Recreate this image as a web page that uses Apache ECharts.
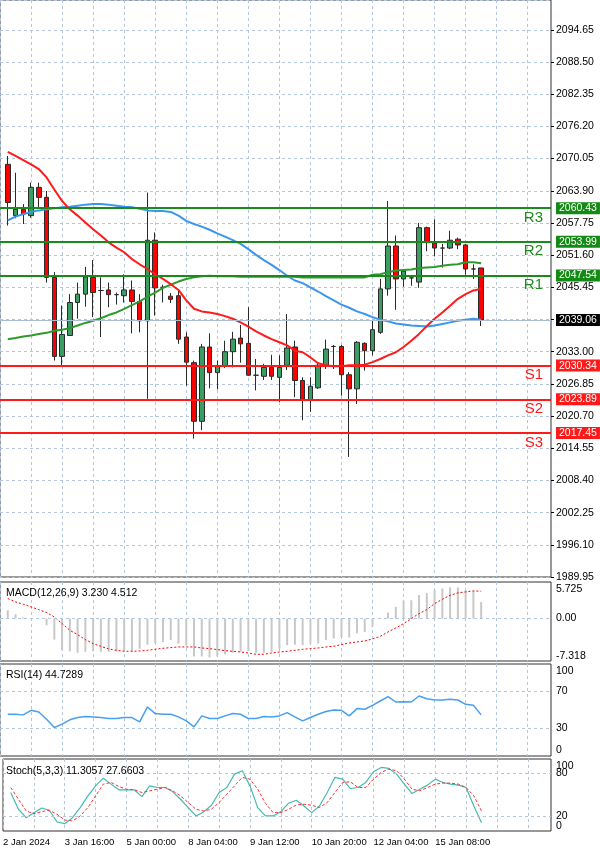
<!DOCTYPE html>
<html>
<head>
<meta charset="utf-8">
<script src="https://cdn.jsdelivr.net/npm/echarts@6/dist/echarts.min.js"></script>
<style>html,body{margin:0;padding:0;background:#fff}#c{width:600px;height:852px}</style>
</head>
<body>
<div id="c"></div>
<script>
// 4H candles, index 0..61
var opens=[2068.8,2059.0,2060.2,2059.0,2064.4,2062.5,2047.2,2032.1,2036.1,2042.4,2044.0,2047.2,2044.7,2044.8,2043.9,2043.7,2044.8,2042.6,2038.9,2054.3,2045.3,2043.6,2043.7,2035.8,2030.9,2019.7,2033.9,2029.0,2030.2,2033.0,2035.6,2034.6,2028.5,2028.3,2030.0,2028.1,2030.4,2033.9,
 2027.5,2023.7,2026.1,2030.4,2034.0,2034.0,2028.6,2025.9,2034.6,2033.2,2036.7,2045.0,2053.2,2046.9,2047.1,2046.3,2056.7,2053.8,2052.8,2052.8,2054.5,2053.4,2048.8,2049.0];
var closes=[2061.5,2060.2,2059.3,2064.4,2062.5,2047.2,2032.1,2036.3,2042.4,2044.0,2047.3,2044.3,2044.7,2043.9,2043.9,2044.8,2042.6,2038.9,2054.3,2045.2,2045.3,2043.0,2035.4,2031.0,2019.7,2033.9,2029.0,2030.2,2033.0,2035.4,2034.5,2028.5,2028.5,2030.0,2028.3,2030.0,2033.7,2027.5,
 2023.7,2026.4,2030.4,2033.5,2034.0,2028.6,2025.9,2034.8,2033.2,2037.2,2045.0,2053.2,2046.9,2048.4,2047.1,2056.7,2054.0,2052.8,2052.8,2054.3,2053.4,2048.8,2048.8,2039.06];
var highs=[2070.4,2067.2,2061.2,2065.3,2065.3,2063.7,2048.2,2041.8,2044.0,2046.2,2049.2,2050.5,2047.2,2046.2,2044.3,2047.8,2046.6,2044.0,2063.4,2055.8,2045.8,2044.2,2044.7,2036.7,2031.3,2034.5,2036.5,2031.3,2035.1,2036.8,2038.1,2041.5,2031.6,2030.7,2032.4,2032.3,2040.2,2035.1,
 2028.1,2028.1,2031.0,2035.3,2034.3,2034.3,2029.1,2035.0,2034.8,2038.9,2046.9,2061.8,2055.2,2048.8,2047.5,2057.6,2056.9,2058.3,2053.6,2056.1,2054.8,2053.6,2049.7,2049.0];
var lows=[2057.1,2058.5,2057.4,2058.6,2060.6,2046.2,2031.3,2030.4,2036.1,2039.3,2041.6,2039.6,2035.8,2041.5,2042.0,2042.4,2036.5,2036.7,2024.0,2039.9,2042.4,2042.3,2034.5,2026.5,2016.4,2018.0,2026.0,2025.8,2029.9,2030.0,2030.9,2028.4,2025.6,2027.6,2027.6,2023.4,2029.5,2024.3,
 2019.9,2021.5,2025.9,2029.7,2029.7,2024.6,2012.9,2023.0,2029.4,2032.3,2036.4,2043.7,2041.0,2045.4,2045.6,2045.2,2052.2,2051.2,2049.1,2052.6,2052.6,2047.7,2046.9,2037.9];

var maRed=[2071.2,2070.4,2069.6,2068.8,2067.9,2066.3,2064.0,2061.8,2060.2,2059.0,2057.7,2056.4,2055.2,2053.9,2052.9,2052.0,2050.7,2049.7,2048.8,2047.8,2046.9,2045.9,2044.8,2042.8,2041.2,2040.7,2040.5,2040.2,2039.8,2039.3,2038.6,2037.8,2036.9,2036.1,2035.4,2034.8,2034.2,2033.2,
 2032.9,2031.9,2030.8,2030.4,2030.2,2030.2,2030.4,2030.4,2030.5,2031.0,2031.6,2032.3,2032.9,2033.9,2035.1,2036.4,2037.9,2039.3,2040.5,2041.8,2043.1,2044.0,2044.7,2045.0];
var maBlue=[2058.1,2058.8,2059.3,2059.7,2060.0,2060.2,2060.4,2060.6,2060.7,2060.9,2061.1,2061.2,2061.2,2061.1,2060.9,2060.7,2060.6,2060.3,2060.0,2059.9,2059.9,2059.7,2059.0,2058.0,2057.4,2056.9,2056.3,2055.6,2055.0,2054.3,2053.6,2052.6,2051.5,2050.5,2049.6,2048.6,2047.5,2046.6,
 2046.1,2045.3,2044.5,2043.6,2042.8,2042.0,2041.4,2040.7,2040.2,2039.6,2039.1,2038.8,2038.4,2038.2,2038.0,2037.9,2037.8,2038.0,2038.3,2038.6,2038.9,2039.1,2039.3,2039.1];
var maGreen=[2035.4,2035.6,2035.9,2036.1,2036.4,2036.6,2037.0,2037.2,2037.5,2038.0,2038.5,2038.9,2039.4,2040.0,2040.5,2041.2,2041.9,2042.6,2043.5,2044.3,2045.2,2045.8,2046.4,2046.9,2047.2,2047.4,2047.5,2047.4,2047.4,2047.4,2047.3,2047.3,2047.3,2047.3,2047.3,2047.3,2047.3,2047.3,
 2047.2,2047.2,2047.2,2047.2,2047.2,2047.2,2047.2,2047.2,2047.2,2047.7,2047.8,2048.2,2048.5,2048.6,2048.7,2049.0,2049.1,2049.2,2049.4,2049.6,2049.7,2050.1,2050.1,2049.9];

var macdHist=[1.63,0.85,0.2,0.1,-0.1,-1.31,-4.11,-6.2,-6.4,-6.7,-6.5,-6.4,-6.5,-6.5,-6.4,-6.4,-6.4,-5.9,-5.1,-4.8,-4.6,-4.2,-4.9,-5.3,-7.4,-7.4,-7.6,-7.4,-7.0,-6.7,-6.5,-6.4,-6.7,-6.7,-6.5,-5.9,-5.2,-5.1,
 -5.2,-4.9,-4.9,-4.2,-3.9,-3.6,-3.7,-2.9,-2.6,-1.6,0.05,1.2,2.3,3.5,3.6,4.6,5.0,5.6,5.9,6.1,6.1,5.6,5.4,3.23];
var macdSignal=[3.92,3.27,2.81,2.29,1.76,1.18,0.33,-0.98,-2.29,-3.13,-4.11,-4.9,-5.42,-5.94,-6.2,-6.4,-6.4,-6.33,-6.2,-6.01,-5.81,-5.68,-5.55,-5.55,-5.55,-5.75,-5.88,-6.07,-6.27,-6.4,-6.53,-6.73,-6.99,-6.99,-6.73,-6.53,-6.4,-6.2,
 -6.01,-5.88,-5.75,-5.55,-5.42,-5.09,-4.77,-4.57,-4.38,-3.98,-3.46,-2.61,-1.83,-0.98,0,0.98,1.76,2.94,3.79,4.57,5.03,5.22,5.42,5.35];
var rsi=[45.4,45.4,44.7,49.7,47.9,40.0,31.0,34.6,39.3,41.8,42.9,42.5,41.8,40.7,40.7,41.8,41.8,37.1,53.3,46.1,45.4,45.4,42.5,38.2,31.7,43.6,40.7,40.7,43.6,46.1,45.4,40.7,40.7,42.9,42.5,43.6,47.2,42.5,
 38.2,41.8,45.4,48.3,50.1,49.7,43.6,51.5,50.8,55.1,59.8,64.5,58.7,59.1,58.7,65.2,62.3,60.9,60.9,61.6,60.9,56.2,55.1,44.73];
var stochMain=[53.4,30.2,18.5,25.5,32.0,28.8,12.5,10.2,18.5,32.5,48.8,62.7,73.4,65.1,57.2,57.2,57.2,47.8,62.7,60.4,60.4,54.4,44.1,32.5,20.9,26.5,35.8,53.4,60.4,79.0,83.7,62.7,32.5,20.9,20.9,26.9,38.6,42.7,
 34.8,25.5,34.8,53.4,74.4,72.0,59.0,60.4,67.4,82.3,88.3,86.9,79.0,65.1,52.0,58.1,63.7,72.0,67.4,65.1,63.7,60.4,34.8,11.31];
var stochSignal=[60.4,44.1,27.9,24.1,26.9,28.8,23.2,15.3,13.9,20.9,32.5,48.8,65.1,67.4,61.8,58.1,57.2,53.4,55.8,58.1,60.4,55.8,48.8,39.5,30.2,27.9,30.2,39.5,51.1,62.7,74.4,72.0,58.1,38.6,25.5,25.5,30.2,36.2,
 37.2,35.8,32.5,39.5,53.4,67.4,68.3,60.4,60.4,72.0,81.4,86.0,83.7,72.0,58.1,55.8,60.4,65.1,66.5,66.5,65.1,60.4,48.8,27.66];

var priceTicks=['1989.95','1996.10','2002.25','2008.40','2014.55','2020.70','2026.85','2033.00','','2045.45','2051.60','2057.75','2063.90','2070.05','2076.20','2082.35','2088.50','2094.65'];
var resist=[['R3',2060.43],['R2',2053.99],['R1',2047.54]];
var support=[['S1',2030.34],['S2',2023.89],['S3',2017.45]];
var lastPrice=2039.06;
// 72 slots: slot 0 is before first candle
var dateLabels={0:'2 Jan 2024',8:'3 Jan 16:00',16:'5 Jan 00:00',24:'8 Jan 04:00',32:'9 Jan 12:00',40:'10 Jan 20:00',48:'12 Jan 04:00',56:'15 Jan 08:00'};

var N=72;
var cats=[];for(var k=0;k<N;k++)cats.push(String(k));
function pad(arr){var r=['-'];for(var k=0;k<arr.length;k++)r.push(arr[k]);while(r.length<N)r.push('-');return r;}
var candles=['-'];
for(var k=0;k<opens.length;k++)candles.push([opens[k],closes[k],lows[k],highs[k]]);
while(candles.length<N)candles.push('-');

var FONT='Liberation Sans';
var CLEAR='rgba(0,0,0,0)';
var gridLine={show:true,interval:function(i){return i%4===0;},lineStyle:{color:'#b4c6dc',type:[3,3],width:1}};
function xAx(gi,showLabel){
  return {type:'category',gridIndex:gi,data:cats,boundaryGap:false,
    axisLine:{show:false},axisTick:{show:false},splitLine:gridLine,
    axisLabel:{show:showLabel,interval:0,align:'left',margin:6,fontFamily:FONT,fontSize:9.5,color:'#000',
      formatter:function(v,i){return dateLabels[i]||'';}}};
}
function hidY(gi,mn,mx){
  return {type:'value',gridIndex:gi,position:'right',min:mn,max:mx,
    axisLine:{show:false},axisTick:{show:false},axisLabel:{show:false},splitLine:{show:false}};
}
function tag(v,txt,bg,fg){
  return {yAxis:v,lineStyle:{color:CLEAR,width:1},
    label:{show:true,position:'end',distance:5,formatter:txt,backgroundColor:bg,color:fg,
      padding:[1,3,0,3],fontFamily:FONT,fontSize:10.5}};
}
function level(v,name,col){
  return {yAxis:v,lineStyle:{color:col,width:2,type:'solid'},
    label:{show:true,position:'insideEndBottom',distance:[8,2],formatter:name,color:col,fontFamily:FONT,fontSize:15}};
}
function axisText(v,dy){
  return {yAxis:v,lineStyle:{color:CLEAR,width:1},
    label:{show:true,position:'end',distance:5,offset:[0,dy||0],formatter:String(v),color:'#000',fontFamily:FONT,fontSize:10.5}};
}
function dashLine(v,lbl){
  return {yAxis:v,lineStyle:{color:'#b4c6dc',type:[3,3],width:1},
    label:{show:true,position:'end',distance:5,formatter:lbl,color:'#000',fontFamily:FONT,fontSize:10.5}};
}

var levelData=[];
resist.forEach(function(r){levelData.push(level(r[1],r[0],'#1a8a1a'));levelData.push(tag(r[1],r[1].toFixed(2),'#138a13','#fff'));});
support.forEach(function(s){levelData.push(level(s[1],s[0],'#ff1a1a'));levelData.push(tag(s[1],s[1].toFixed(2),'#ff1a1a','#fff'));});
levelData.push({yAxis:lastPrice,lineStyle:{color:'#a9bcd6',width:1,type:'solid'},
  label:{show:true,position:'end',distance:5,formatter:lastPrice.toFixed(2),backgroundColor:'#000',color:'#fff',padding:[1,3,0,3],fontFamily:FONT,fontSize:10.5}});

var border={show:true,borderColor:'#333',borderWidth:1,backgroundColor:'#fff'};
var chart=echarts.init(document.getElementById('c'));
chart.setOption({
  animation:false,
  backgroundColor:'#fff',
  title:[
    {text:'MACD(12,26,9) 3.230 4.512',left:1,top:583,textStyle:{fontFamily:FONT,fontSize:10.5,fontWeight:'normal',color:'#000'}},
    {text:'RSI(14) 44.7289',left:1,top:665,textStyle:{fontFamily:FONT,fontSize:10.5,fontWeight:'normal',color:'#000'}},
    {text:'Stoch(5,3,3) 11.3057 27.6603',left:1,top:761,textStyle:{fontFamily:FONT,fontSize:10.5,fontWeight:'normal',color:'#000'}}
  ],
  grid:[
    Object.assign({left:-3,right:49,top:-1,height:578},border),
    Object.assign({left:-3,right:49,top:582,height:79},border),
    Object.assign({left:-3,right:49,top:664,height:92},border),
    Object.assign({left:-3,right:49,top:759,height:72},border)
  ],
  xAxis:[xAx(0,false),xAx(1,false),xAx(2,false),xAx(3,true)],
  yAxis:[
    {type:'value',gridIndex:0,position:'right',min:1989.95,max:2100.2,interval:6.15,
      axisLine:{show:false},axisTick:{show:true,length:3,lineStyle:{color:'#000'}},
      axisLabel:{showMaxLabel:false,margin:5,fontFamily:FONT,fontSize:10.5,color:'#000',
        formatter:function(v,i){return priceTicks[i]||'';}},
      splitLine:{show:true,lineStyle:{color:'#b4c6dc',type:[3,3],width:1}}},
    hidY(1,-8.3,7.16),hidY(2,0,100),hidY(3,0,100)
  ],
  series:[
    {type:'candlestick',xAxisIndex:0,yAxisIndex:0,data:candles,barWidth:5,clip:false,
      itemStyle:{color:'#3a9d62',color0:'#ff0000',borderColor:'#2a2a2a',borderColor0:'#2a2a2a',borderWidth:1},
      markLine:{silent:true,symbol:'none',animation:false,data:levelData}},
    {type:'line',xAxisIndex:0,yAxisIndex:0,data:pad(maGreen),symbol:'none',lineStyle:{color:'#2c9a2c',width:2}},
    {type:'line',xAxisIndex:0,yAxisIndex:0,data:pad(maBlue),symbol:'none',lineStyle:{color:'#3a96ee',width:2}},
    {type:'line',xAxisIndex:0,yAxisIndex:0,data:pad(maRed),symbol:'none',lineStyle:{color:'#ff1a1a',width:2}},
    {type:'bar',xAxisIndex:1,yAxisIndex:1,data:pad(macdHist),barWidth:2,itemStyle:{color:'#c8c8c8'},
      markLine:{silent:true,symbol:'none',data:[axisText(5.725,0),dashLine(0,'0.00'),axisText(-7.318,0)]}},
    {type:'line',xAxisIndex:1,yAxisIndex:1,data:pad(macdSignal),symbol:'none',lineStyle:{color:'#ff0000',width:1,type:[2,2]}},
    {type:'line',xAxisIndex:2,yAxisIndex:2,data:pad(rsi),symbol:'none',lineStyle:{color:'#46a0f0',width:1.5},
      markLine:{silent:true,symbol:'none',data:[axisText(100,7),dashLine(70,'70'),dashLine(30,'30'),axisText(0,-6)]}},
    {type:'line',xAxisIndex:3,yAxisIndex:3,data:pad(stochMain),symbol:'none',lineStyle:{color:'#44bbb0',width:1.2},
      markLine:{silent:true,symbol:'none',data:[axisText(100,7),dashLine(80,'80'),dashLine(20,'20'),axisText(0,-5)]}},
    {type:'line',xAxisIndex:3,yAxisIndex:3,data:pad(stochSignal),symbol:'none',lineStyle:{color:'#ff3030',width:1,type:[3,2]}}
  ]
});
</script>
</body>
</html>
